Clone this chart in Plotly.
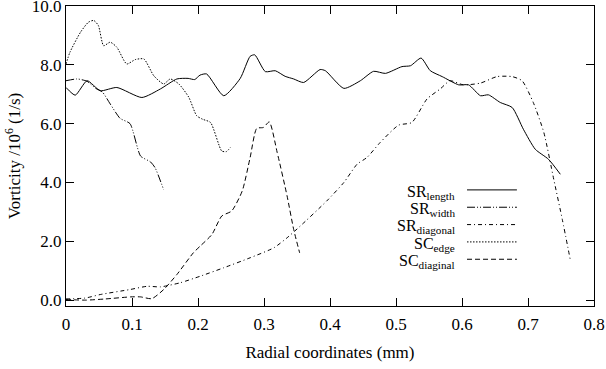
import plotly.graph_objects as go

# ---- data ----
sr_length_x = [0, 0.014, 0.032, 0.052, 0.077, 0.115, 0.143, 0.168, 0.185, 0.195, 0.203, 0.213,
               0.239, 0.264, 0.279, 0.286, 0.302, 0.317, 0.332, 0.345, 0.36, 0.385, 0.393, 0.421,
               0.446, 0.466, 0.484, 0.509, 0.522, 0.538, 0.552, 0.57, 0.595, 0.61, 0.628, 0.64,
               0.658, 0.676, 0.693, 0.711, 0.731, 0.749]
sr_length_y = [7.23, 6.97, 7.46, 7.12, 7.23, 6.89, 7.18, 7.52, 7.54, 7.5, 7.65, 7.69,
               6.95, 7.54, 8.29, 8.34, 7.77, 7.8, 7.61, 7.52, 7.4, 7.84, 7.8, 7.2,
               7.46, 7.78, 7.71, 7.94, 7.97, 8.23, 7.8, 7.6, 7.32, 7.32, 6.95, 6.98,
               6.72, 6.55, 5.81, 5.13, 4.79, 4.28]

sr_width_x = [0, 0.017, 0.032, 0.045, 0.055, 0.067, 0.082, 0.097, 0.113, 0.128, 0.135, 0.148]
sr_width_y = [7.46, 7.52, 7.44, 7.2, 7.08, 6.67, 6.18, 6.0, 4.9, 4.7, 4.5, 3.75]

sr_diag_x = [0, 0.029, 0.052, 0.097, 0.123, 0.143, 0.173, 0.203, 0.239, 0.279, 0.315, 0.335,
             0.355, 0.395, 0.421, 0.441, 0.456, 0.476, 0.504, 0.524, 0.547, 0.567, 0.582,
             0.602, 0.628, 0.653, 0.676, 0.691, 0.708, 0.724, 0.739, 0.752, 0.764]
sr_diag_y = [0.04, 0.07, 0.19, 0.36, 0.47, 0.45, 0.59, 0.81, 1.1, 1.44, 1.78, 2.12,
             2.52, 3.37, 4.0, 4.62, 4.85, 5.36, 5.95, 6.04, 6.84, 7.18, 7.46,
             7.32, 7.38, 7.6, 7.6, 7.46, 6.72, 5.7, 4.11, 2.74, 1.38]

sc_edge_x = [0, 0.006, 0.022, 0.034, 0.042, 0.049, 0.057, 0.067, 0.077, 0.092, 0.105, 0.118,
             0.133, 0.148, 0.158, 0.171, 0.186, 0.198, 0.207, 0.219, 0.236, 0.243, 0.249]
sc_edge_y = [8.03, 8.43, 9.11, 9.45, 9.51, 9.34, 8.65, 8.77, 8.6, 8.03, 8.18, 8.2,
             7.63, 7.35, 7.52, 7.35, 6.9, 6.27, 6.15, 6.04, 5.07, 5.05, 5.19]

sc_diag_x = [0, 0.03, 0.06, 0.098, 0.113, 0.13, 0.148, 0.168, 0.193, 0.203, 0.221, 0.236,
             0.251, 0.267, 0.279, 0.289, 0.299, 0.308, 0.32, 0.335, 0.345, 0.354]
sc_diag_y = [0.02, 0.0, 0.04, 0.11, 0.11, 0.05, 0.36, 0.87, 1.61, 1.83, 2.23, 2.86,
             3.03, 3.71, 4.85, 5.84, 5.87, 6.06, 5.02, 3.54, 2.4, 1.61]

labels = ["SR<sub>length</sub>", "SR<sub>width</sub>", "SR<sub>diagonal</sub>",
          "SC<sub>edge</sub>", "SC<sub>diaginal</sub>"]
dashes = ["solid", "8px,2px,1px,2px,1px,2px", "4px,3px,1px,3px", "1.5px,1.5px", "5px,3px"]
series = [(sr_length_x, sr_length_y), (sr_width_x, sr_width_y), (sr_diag_x, sr_diag_y),
          (sc_edge_x, sc_edge_y), (sc_diag_x, sc_diag_y)]

x_ticks = [0, 0.1, 0.2, 0.3, 0.4, 0.5, 0.6, 0.7, 0.8]
y_ticks = [0, 2, 4, 6, 8, 10]

FONT = "Liberation Serif, Times New Roman, DejaVu Serif, serif"
FS = 17

fig = go.Figure()
for (xs, ys), name, d in zip(series, labels, dashes):
    fig.add_trace(go.Scatter(x=xs, y=ys, mode="lines", name=name, showlegend=False,
                             line=dict(color="black", width=1, dash=d, shape="spline", smoothing=0.6)))

# custom legend: text right-aligned, sample line to the right
row0, dy = 0.379, 0.0578
for i, (name, d) in enumerate(zip(labels, dashes)):
    yy = row0 - i * dy
    fig.add_annotation(x=0.741, y=yy, xref="paper", yref="paper", text=name, showarrow=False,
                       xanchor="right", yanchor="middle", font=dict(family=FONT, size=16, color="black"))
    fig.add_shape(type="line", xref="paper", yref="paper", x0=0.7595, x1=0.854, y0=yy + 0.008, y1=yy + 0.008,
                  line=dict(color="black", width=1, dash=d))

axis_common = dict(showline=True, linecolor="black", linewidth=1, mirror="ticks",
                   ticks="inside", ticklen=8, tickcolor="black", tickwidth=1,
                   showgrid=False, zeroline=False, ticklabeloverflow="allow", automargin=False,
                   tickfont=dict(family=FONT, size=FS, color="black"))

fig.update_xaxes(range=[0, 0.8], tickvals=x_ticks, ticktext=[f"{v:g}" for v in x_ticks],
                 ticklabelstandoff=3,
                 title=dict(text="Radial coordinates (mm)", font=dict(family=FONT, size=FS, color="black"),
                            standoff=12),
                 **axis_common)
fig.update_yaxes(range=[-0.2, 10.001], tickvals=y_ticks, ticktext=[f"{v:.1f}" for v in y_ticks],
                 title=dict(text="Vorticity /10<sup>6</sup> (1/s)", font=dict(family=FONT, size=FS, color="black"),
                            standoff=6),
                 **axis_common)

fig.update_layout(width=606, height=369, margin=dict(l=66, r=12, t=6, b=63),
                  paper_bgcolor="white", plot_bgcolor="white",
                  font=dict(family=FONT, size=FS, color="black"))

fig.write_html("out.html")
